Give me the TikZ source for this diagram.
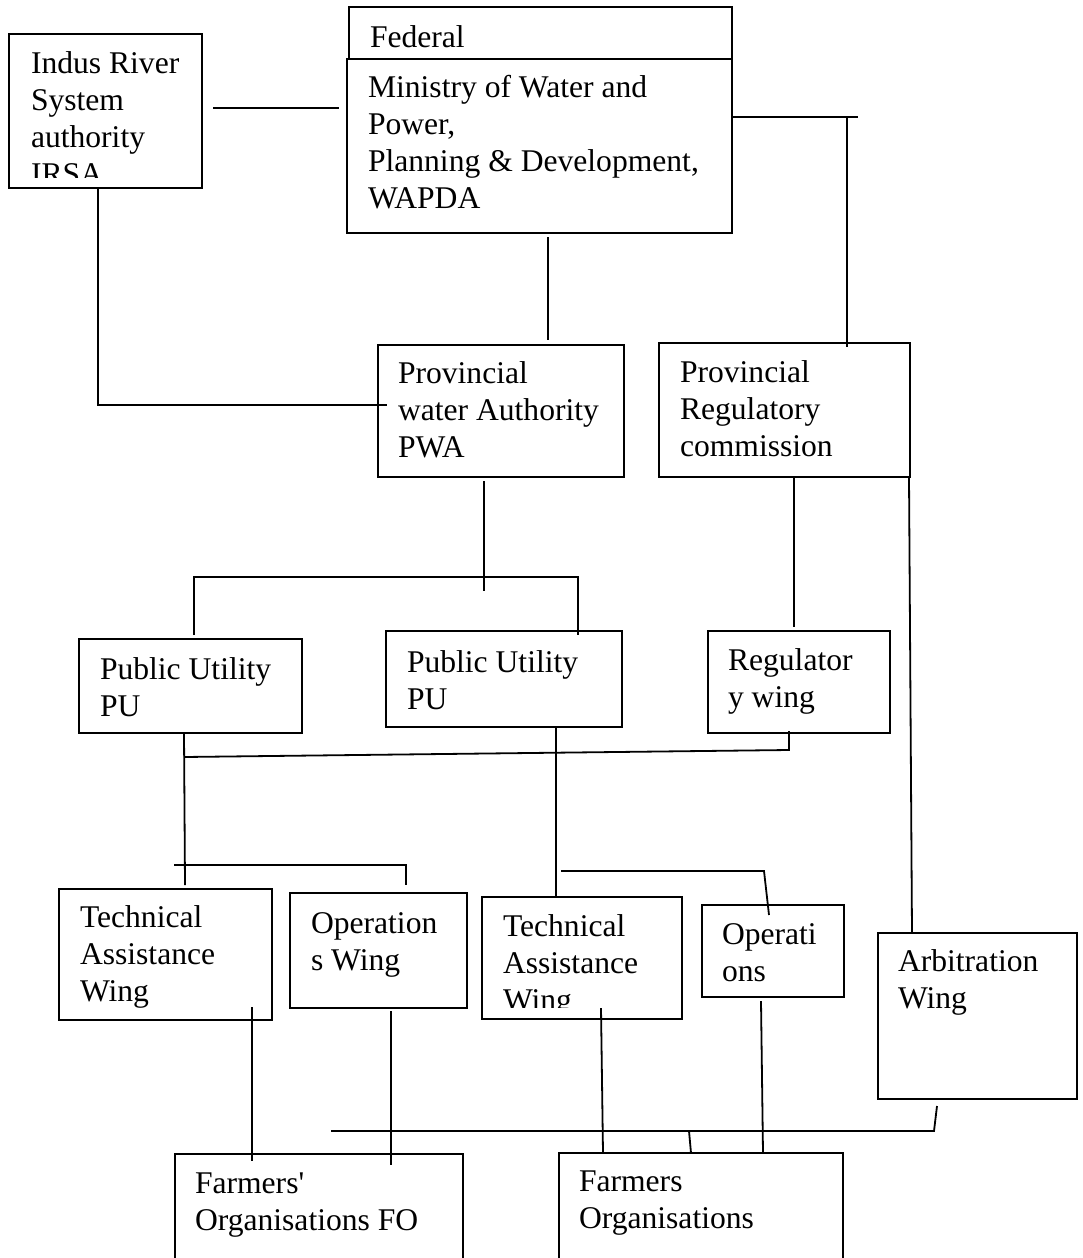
\documentclass[tikz,border=0pt]{standalone}
\usepackage{fontspec}
\setmainfont{Liberation Serif}
\begin{document}
\begin{tikzpicture}[x=1pt,y=-1pt,
  box/.style={draw=black, line width=1.8pt, rectangle, inner sep=0pt, outer sep=0pt, anchor=north west},
  txt/.style={anchor=north west, inner sep=0pt, outer sep=0pt, align=left, font=\fontsize{31.6}{37}\selectfont},
  link/.style={draw=black, line width=1.8pt}]
\useasboundingbox (0,0) rectangle (1082,1258);
\fill[white] (0,0) rectangle (1082,1258);

% ---------- boxes ----------
\node[box, minimum width=383pt, minimum height=52pt]  (fed)  at (349,7)    {};
\node[box, minimum width=385pt, minimum height=174pt] (min)  at (347,59)   {};
\node[box, minimum width=193pt, minimum height=154pt] (irsa) at (9,34)     {};
\node[box, minimum width=246pt, minimum height=132pt] (pwa)  at (378,345)  {};
\node[box, minimum width=251pt, minimum height=134pt] (prc)  at (659,343)  {};
\node[box, minimum width=223pt, minimum height=94pt]  (pua)  at (79,639)   {};
\node[box, minimum width=236pt, minimum height=96pt]  (pub)  at (386,631)  {};
\node[box, minimum width=182pt, minimum height=102pt] (reg)  at (708,631)  {};
\node[box, minimum width=213pt, minimum height=131pt] (tawa) at (59,889)   {};
\node[box, minimum width=177pt, minimum height=115pt] (opsa) at (290,893)  {};
\node[box, minimum width=200pt, minimum height=122pt] (tawb) at (482,897)  {};
\node[box, minimum width=142pt, minimum height=92pt]  (opsb) at (702,905)  {};
\node[box, minimum width=199pt, minimum height=166pt] (arb)  at (878,933)  {};
\node[box, minimum width=288pt, minimum height=130pt] (foa)  at (175,1154) {};
\node[box, minimum width=284pt, minimum height=130pt] (fob)  at (559,1153) {};

% ---------- texts ----------
\node[txt] (fedT) at (370,23) {\rule{0pt}{24pt}Federal};
\node[txt] (minT) at (368,73) {\rule{0pt}{24pt}Ministry of Water and\\Power,\\Planning \& Development,\\WAPDA};
\begin{scope}
  \clip (9,34) rectangle (202,177);
  \node[txt] (irsaT) at (31,49) {\rule{0pt}{24pt}Indus River\\System\\authority\\IRSA};
\end{scope}
\node[txt] (pwaT) at (398,359) {\rule{0pt}{24pt}Provincial\\water Authority\\PWA};
\node[txt] (prcT) at (680,358) {\rule{0pt}{24pt}Provincial\\Regulatory\\commission};
\node[txt] (puaT) at (100,655) {\rule{0pt}{24pt}Public Utility\\PU};
\node[txt] (pubT) at (407,648) {\rule{0pt}{24pt}Public Utility\\PU};
\node[txt] (regT) at (728,646) {\rule{0pt}{24pt}Regulator\\y wing};
\node[txt] (tawaT) at (80,903) {\rule{0pt}{24pt}Technical\\Assistance\\Wing};
\node[txt] (opsaT) at (311,909) {\rule{0pt}{24pt}Operation\\s Wing};
\begin{scope}
  \clip (482,897) rectangle (682,1007);
  \node[txt] (tawbT) at (503,912) {\rule{0pt}{24pt}Technical\\Assistance\\Wing};
\end{scope}
\node[txt] (opsbT) at (722,920) {\rule{0pt}{24pt}Operati\\ons};
\node[txt] (arbT) at (898,947) {\rule{0pt}{24pt}Arbitration\\Wing};
\node[txt] (foaT) at (195,1169) {\rule{0pt}{24pt}Farmers\textquotesingle\\Organisations FO};
\node[txt] (fobT) at (579,1167) {\rule{0pt}{24pt}Farmers\\Organisations};

% ---------- connector points ----------
\coordinate (k1a) at (213,108);  \coordinate (k1b) at (339,108);
\coordinate (k2a) at (732,117);  \coordinate (k2b) at (858,117);
\coordinate (k2c) at (847,117);  \coordinate (k2d) at (847,347);
\coordinate (k3a) at (548,237);  \coordinate (k3b) at (548,340);
\coordinate (k4a) at (98,188);   \coordinate (k4b) at (98,405);   \coordinate (k4c) at (387,405);
\coordinate (k5a) at (484,481);  \coordinate (k5b) at (484,591);
\coordinate (k5c) at (194,635);  \coordinate (k5d) at (194,577);  \coordinate (k5e) at (578,577); \coordinate (k5f) at (578,635);
\coordinate (k6a) at (794,477);  \coordinate (k6b) at (794,627);
\coordinate (k7a) at (909,477);  \coordinate (k7b) at (912,933);
\coordinate (k8a) at (789,731);  \coordinate (k8b) at (789,750);  \coordinate (k8c) at (184,757);
\coordinate (k9a) at (184,733);  \coordinate (k9b) at (185,885);
\coordinate (k10a) at (174,865); \coordinate (k10b) at (406,865); \coordinate (k10c) at (406,885);
\coordinate (k11a) at (556,727); \coordinate (k11b) at (556,897);
\coordinate (k12a) at (561,871); \coordinate (k12b) at (764,871); \coordinate (k12c) at (769,915);
\coordinate (k13a) at (252,1007); \coordinate (k13b) at (252,1161);
\coordinate (k14a) at (391,1011); \coordinate (k14b) at (391,1165);
\coordinate (k15a) at (601,1008); \coordinate (k15b) at (603,1153);
\coordinate (k16a) at (761,1001); \coordinate (k16b) at (763,1153);
\coordinate (k17a) at (331,1131); \coordinate (k17b) at (934,1131); \coordinate (k17c) at (937,1106);
\coordinate (k18a) at (689,1131); \coordinate (k18b) at (691,1153);

% ---------- connectors ----------
\draw[link] (k1a) -- (k1b);
\draw[link] (k2a) -- (k2b);
\draw[link] (k2c) -- (k2d);
\draw[link] (k3a) -- (k3b);
\draw[link] (k4a) -- (k4b) -- (k4c);
\draw[link] (k5a) -- (k5b);
\draw[link] (k5c) -- (k5d) -- (k5e) -- (k5f);
\draw[link] (k6a) -- (k6b);
\draw[link] (k7a) -- (k7b);
\draw[link] (k8a) -- (k8b) -- (k8c);
\draw[link] (k9a) -- (k9b);
\draw[link] (k10a) -- (k10b) -- (k10c);
\draw[link] (k11a) -- (k11b);
\draw[link] (k12a) -- (k12b) -- (k12c);
\draw[link] (k13a) -- (k13b);
\draw[link] (k14a) -- (k14b);
\draw[link] (k15a) -- (k15b);
\draw[link] (k16a) -- (k16b);
\draw[link] (k17a) -- (k17b) -- (k17c);
\draw[link] (k18a) -- (k18b);
\end{tikzpicture}
\end{document}
